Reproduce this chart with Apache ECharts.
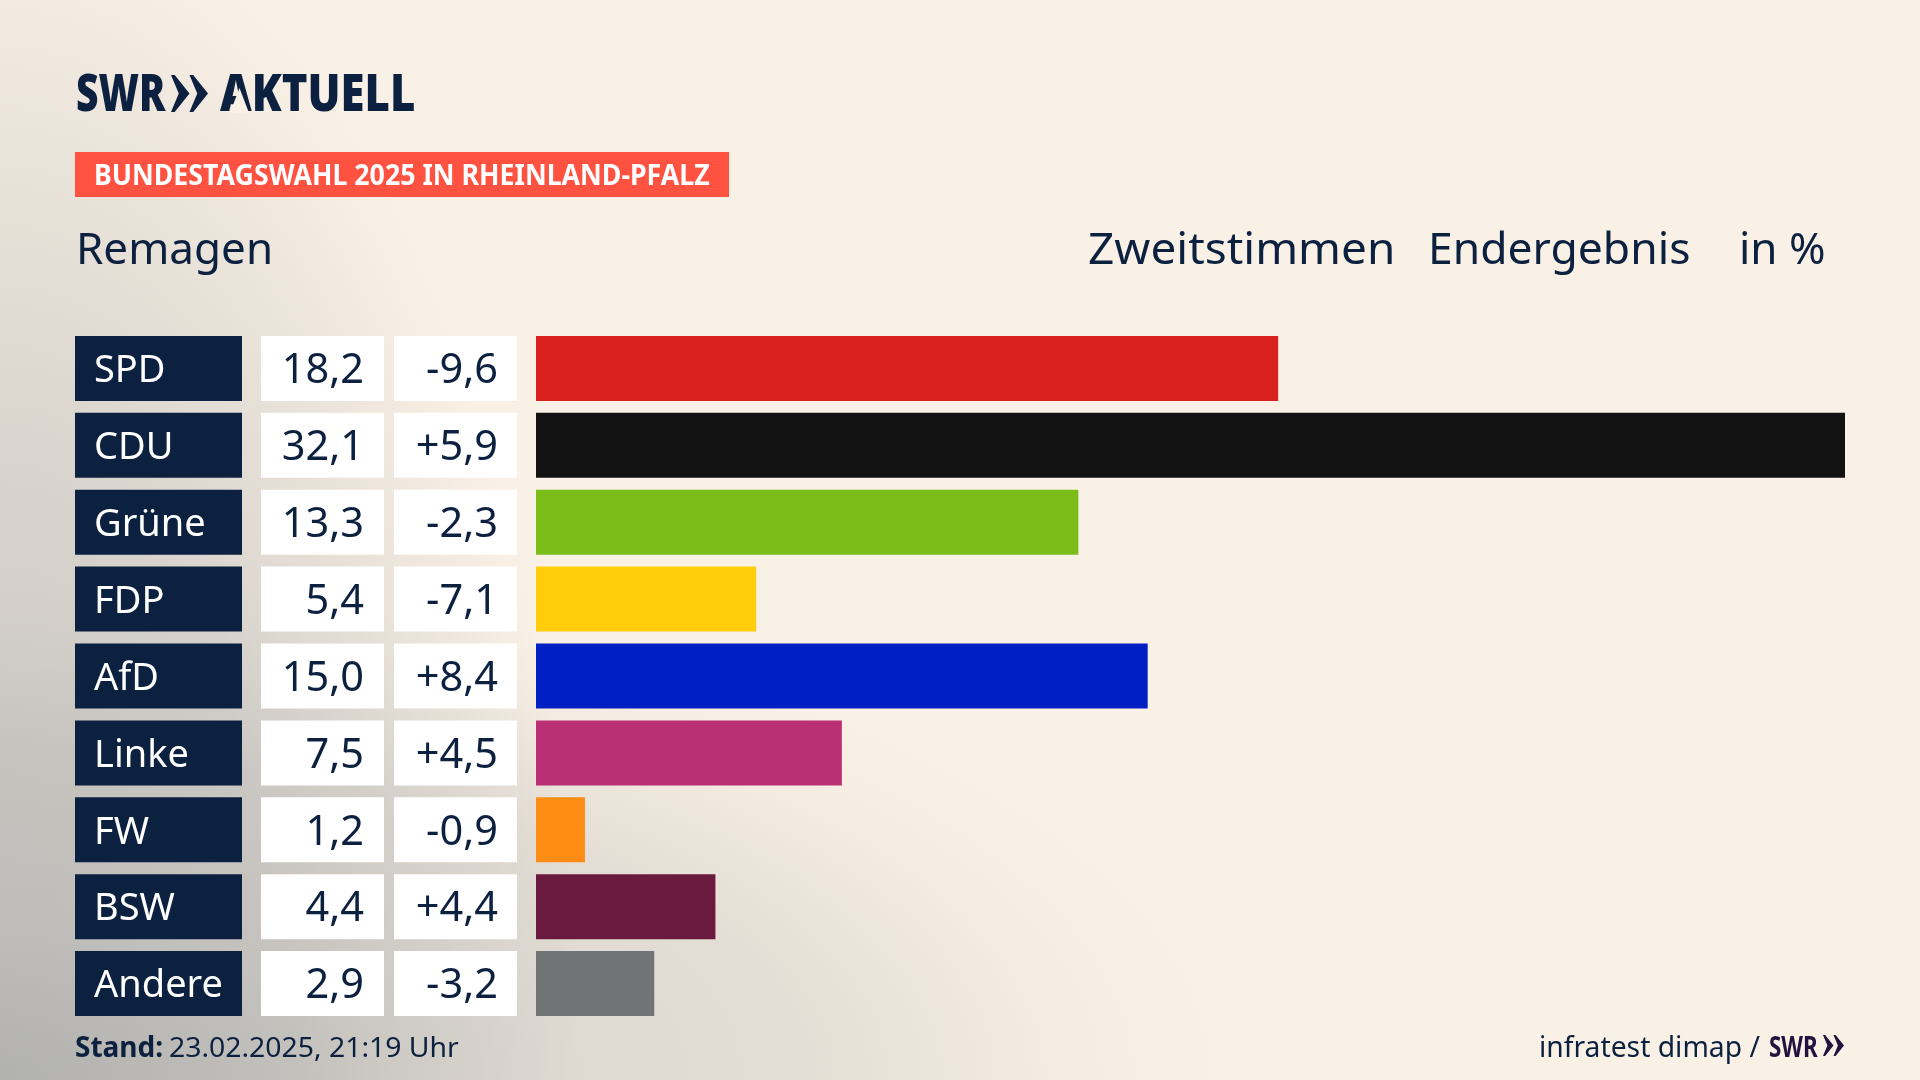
<!DOCTYPE html>
<html>
<head>
<meta charset="utf-8">
<title>Bundestagswahl 2025 Remagen</title>
<script src="https://cdn.jsdelivr.net/npm/echarts@6/dist/echarts.min.js"></script>
<style>
  html, body { margin: 0; padding: 0; background: #faf1e6; }
  #chart { width: 1920px; height: 1080px; }
</style>
</head>
<body>
<div id="chart"></div>
<script>
var parties = ['SPD', 'CDU', 'Grüne', 'FDP', 'AfD', 'Linke', 'FW', 'BSW', 'Andere'];
var shares = [18.2, 32.1, 13.3, 5.4, 15.0, 7.5, 1.2, 4.4, 2.9];
var changes = [-9.6, 5.9, -2.3, -7.1, 8.4, 4.5, -0.9, 4.4, -3.2];
var partyColors = ['#d8201e', '#121212', '#7abd19', '#ffcd0a', '#0020c4', '#ba2e74', '#ff8c14', '#691a3e', '#727375'];

var navy = '#0c2040';
var font = '"Noto Sans", sans-serif';

function de(v) { return v.toFixed(1).replace('.', ','); }
function signed(v) { return (v > 0 ? '+' : '') + de(v); }

// one grid per table column, all with the same rows
var columns = [[75, 167], [261, 123], [394, 123], [536, 1309]];
var grids = [], xAxes = [], yAxes = [];
columns.forEach(function (c, i) {
  grids.push({ left: c[0], width: c[1], top: 330, height: 692 });
  xAxes.push({ gridIndex: i, type: 'value', min: 0, max: i == 3 ? 32.1 : 1, show: false });
  yAxes.push({ gridIndex: i, type: 'category', data: parties, inverse: true, show: false });
});

function cellSeries(i, color, labels, pos, dist, labelColor, size) {
  return {
    type: 'bar', xAxisIndex: i, yAxisIndex: i, barWidth: 65, silent: true,
    data: parties.map(function () { return 1; }),
    itemStyle: { color: color },
    label: {
      show: true, position: pos, distance: dist, color: labelColor, offset: [0, 3],
      fontFamily: font, fontSize: size,
      formatter: function (p) { return labels[p.dataIndex]; }
    }
  };
}

// y is the text baseline
function text(x, y, str, size, opts) {
  opts = opts || {};
  return {
    type: 'text', x: x, y: y - size * 0.28, scaleX: opts.scaleX || 1, silent: true,
    style: {
      text: str, fill: opts.color || navy, fontFamily: font,
      fontSize: size, fontWeight: opts.weight || 'normal',
      verticalAlign: 'middle', align: 'left'
    }
  };
}

function chevrons(x, y, w, h, color) {
  // two arrows of the SWR logo
  var cw = w * 0.5;
  return [0, w - cw].map(function (dx) {
    var l = x + dx;
    return {
      type: 'polygon', silent: true,
      shape: { points: [[l, y], [l + cw * 0.2, y], [l + cw, y + h / 2], [l + cw * 0.2, y + h], [l, y + h], [l + cw * 0.42, y + h / 2]] },
      style: { fill: color }
    };
  });
}

// grey glow out of the bottom left corner, stretched to an ellipse
function glow(rx, ry, stops) {
  return {
    type: 'rect', x: 0, y: 1080, scaleX: rx / 1000, scaleY: ry / 1000, z: -1, silent: true,
    shape: { x: 0, y: -1000, width: 1000, height: 1000 },
    style: {
      fill: new echarts.graphic.RadialGradient(0, 0, 1000, stops.map(function (s) {
        return { offset: s[0], color: 'rgba(168,169,168,' + s[1] + ')' };
      }), true)
    }
  };
}

var myChart = echarts.init(document.getElementById('chart'));

myChart.setOption({
  animation: false,
  backgroundColor: '#faf1e6',
  grid: grids,
  xAxis: xAxes,
  yAxis: yAxes,
  series: [
    cellSeries(0, navy, parties, 'insideLeft', 19, '#ffffff', 38),
    cellSeries(1, '#ffffff', shares.map(de), 'insideRight', 20, navy, 41.5),
    cellSeries(2, '#ffffff', changes.map(signed), 'insideRight', 19, navy, 41.5),
    {
      type: 'bar', xAxisIndex: 3, yAxisIndex: 3, barWidth: 65, silent: true,
      data: shares.map(function (v, i) { return { value: v, itemStyle: { color: partyColors[i] } }; })
    }
  ],
  graphic: [
    glow(580, 1200, [[0, 0.6], [0.5, 0.42], [0.8, 0.17], [1, 0]]),
    glow(1230, 500, [[0, 0.7], [0.3, 0.38], [0.65, 0.27], [0.85, 0.08], [1, 0]]),
    { type: 'rect', shape: { x: 75, y: 152, width: 654, height: 45 }, style: { fill: '#ff5240' }, silent: true },
    text(94, 185, 'BUNDESTAGSWAHL 2025 IN RHEINLAND-PFALZ', 28, { color: '#ffffff', weight: 'bold', scaleX: 0.955 }),
    text(76, 111, 'SWR', 52, { weight: 900, scaleX: 0.75 }),
    text(220, 111, 'AKTUELL', 52, { weight: 900, scaleX: 0.84 }),
    // the logo's A has no crossbar
    { type: 'polygon', silent: true, shape: { points: [[239.5, 88], [230, 113], [249, 113]] }, style: { fill: '#f9f0e5' } },
    text(76, 264, 'Remagen', 44),
    text(1088, 264, 'Zweitstimmen', 44, { scaleX: 1.044 }),
    text(1428, 264, 'Endergebnis', 44, { scaleX: 1.01 }),
    text(1739, 264, 'in %', 44),
    text(75, 1057, 'Stand:', 28, { weight: 'bold' }),
    text(169, 1057, '23.02.2025, 21:19 Uhr', 28, { scaleX: 1.013 }),
    text(1539, 1057, 'infratest dimap /', 29, { scaleX: 0.975 }),
    text(1769, 1057, 'SWR', 28, { weight: 'bold', color: '#22123f', scaleX: 0.8 })
  ].concat(chevrons(171, 75, 37, 37, navy), chevrons(1823, 1035, 21, 21, '#22123f'))
});
</script>
</body>
</html>
